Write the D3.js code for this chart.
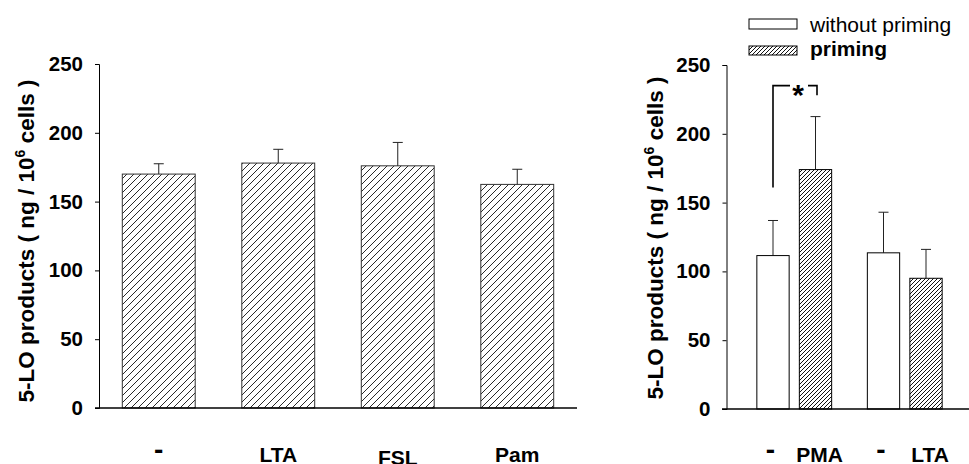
<!DOCTYPE html>
<html lang="en">
<head>
	<meta charset="utf-8">
	<script src="https://d3js.org/d3.v7.min.js"></script>
	<style type="text/css">
		body {
			margin: 0;
			background: #fff;
		}
		svg text {
			font-family: "Liberation Sans", Arial, sans-serif;
		}
	</style>
</head>
<body>
	<script type="text/javascript">

	// left panel: priming agents
	var leftCats = ["-", "LTA", "FSL", "Pam"];
	var leftValues = [170, 178, 176, 162.5];
	var leftErrors = [7.5, 10, 17, 11];

	// right panel: two pairs, without priming / priming
	var rightGroups = ["PMA", "LTA"];
	var rightSeries = ["without priming", "priming"];
	var rightLabels = ["-", "PMA", "-", "LTA"];
	var rightValues = [111.5, 174, 113.5, 95];
	var rightErrors = [25.5, 38.5, 29.5, 21];

	// significance bracket between first pair (value units)
	var sigLevel = [161, 235, 228];

	var yTicks = [0, 50, 100, 150, 200, 250];

	var width = 969;
	var height = 464;

	var svg = d3.select("body").append("svg")
		.attr("width", width)
		.attr("height", height);

	var defs = svg.append("defs");

	function addHatch(id, s, w) {
		var p = defs.append("pattern")
			.attr("id", id)
			.attr("patternUnits", "userSpaceOnUse")
			.attr("width", s)
			.attr("height", s);
		p.append("rect").attr("width", s).attr("height", s).attr("fill", "#fff");
		p.append("path")
			.attr("d", "M0," + s + "L" + s + ",0" +
				"M" + (-s / 2) + "," + (s / 2) + "L" + (s / 2) + "," + (-s / 2) +
				"M" + (s / 2) + "," + (s * 1.5) + "L" + (s * 1.5) + "," + (s / 2))
			.attr("stroke", "#111")
			.attr("stroke-width", w);
	}
	addHatch("hatchWide", 7, 0.9);
	addHatch("hatchDense", 4, 1);

	function yAxisTitle(x, yc) {
		var t = svg.append("text")
			.attr("transform", "translate(" + x + "," + yc + ") rotate(-90)")
			.attr("text-anchor", "middle")
			.style("font-size", "22.5px")
			.style("font-weight", "bold");
		t.append("tspan").text("5-LO products ( ng / 10");
		t.append("tspan").attr("dy", -9).style("font-size", "14px").text("6");
		t.append("tspan").attr("dy", 9).text(" cells )");
	}

	function drawYAxis(y, x0) {
		var g = svg.append("g")
			.attr("transform", "translate(" + x0 + ",0)")
			.call(d3.axisLeft(y).tickValues(yTicks).tickSize(4).tickPadding(12).tickFormat(d3.format("d")));
		g.select(".domain").attr("stroke", "#000").attr("stroke-width", 1);
		g.selectAll(".tick line").attr("stroke", "#000");
		g.selectAll(".tick text")
			.style("font-size", "20.5px")
			.style("font-weight", "bold")
			.attr("fill", "#000");
	}

	function errorBars(data, xc, y, cap) {
		var g = svg.append("g").attr("stroke", "#222").attr("stroke-width", 1);
		g.selectAll("line.v").data(data).enter().append("line")
			.attr("x1", function(d) { return xc(d); })
			.attr("x2", function(d) { return xc(d); })
			.attr("y1", function(d) { return y(d.v); })
			.attr("y2", function(d) { return y(d.v + d.e); });
		g.selectAll("line.c").data(data).enter().append("line")
			.attr("x1", function(d) { return xc(d) - cap / 2; })
			.attr("x2", function(d) { return xc(d) + cap / 2; })
			.attr("y1", function(d) { return y(d.v + d.e); })
			.attr("y2", function(d) { return y(d.v + d.e); });
	}

	// ---------- left panel ----------
	var xL = d3.scaleBand()
		.domain(leftCats)
		.range([99, 577])
		.paddingInner(0.39)
		.paddingOuter(0.195);

	var yL = d3.scaleLinear().domain([0, 250]).range([408, 64]);

	var leftData = leftCats.map(function(c, i) {
		return {c: c, v: leftValues[i], e: leftErrors[i]};
	});

	svg.append("g").selectAll("rect")
		.data(leftData)
		.enter()
		.append("rect")
		.attr("x", function(d) { return xL(d.c); })
		.attr("width", xL.bandwidth())
		.attr("y", function(d) { return yL(d.v); })
		.attr("height", function(d) { return yL(0) - yL(d.v); })
		.attr("fill", "url(#hatchWide)")
		.attr("stroke", "#333")
		.attr("stroke-width", 1);

	errorBars(leftData, function(d) { return xL(d.c) + xL.bandwidth() / 2; }, yL, 10);

	drawYAxis(yL, 99);
	svg.append("line")
		.attr("x1", 95).attr("x2", 577)
		.attr("y1", yL(0)).attr("y2", yL(0))
		.attr("stroke", "#000").attr("stroke-width", 1.5);

	svg.append("g").selectAll("text")
		.data(leftCats)
		.enter()
		.append("text")
		.attr("x", function(d) { return xL(d) + xL.bandwidth() / 2; })
		.attr("y", 462)
		.attr("dy", function(d) { return d === "-" ? -3 : (d === "FSL" ? 2.5 : 0); })
		.attr("text-anchor", "middle")
		.style("font-size", function(d) { return d === "-" ? "28px" : "21px"; })
		.style("font-weight", "bold")
		.text(function(d) { return d; });

	yAxisTitle(34, 241);

	// ---------- right panel ----------
	var xR0 = d3.scaleBand().domain(rightGroups).range([739, 960]);
	var xR1 = d3.scaleBand()
		.domain(rightSeries)
		.range([0, xR0.bandwidth()])
		.paddingInner(0.24)
		.paddingOuter(0.42);

	var yR = d3.scaleLinear().domain([0, 250]).range([409, 65]);

	var rightData = rightValues.map(function(v, i) {
		return {
			g: rightGroups[Math.floor(i / 2)],
			s: rightSeries[i % 2],
			label: rightLabels[i],
			v: v,
			e: rightErrors[i]
		};
	});

	function xRc(d) { return xR0(d.g) + xR1(d.s) + xR1.bandwidth() / 2; }

	errorBars(rightData, xRc, yR, 10);

	svg.append("g").selectAll("rect")
		.data(rightData)
		.enter()
		.append("rect")
		.attr("x", function(d) { return xR0(d.g) + xR1(d.s); })
		.attr("width", xR1.bandwidth())
		.attr("y", function(d) { return yR(d.v); })
		.attr("height", function(d) { return yR(0) - yR(d.v); })
		.attr("fill", function(d) { return d.s === "priming" ? "url(#hatchDense)" : "#fff"; })
		.attr("stroke", "#000")
		.attr("stroke-width", 1);

	drawYAxis(yR, 726.5);
	svg.append("line")
		.attr("x1", 722).attr("x2", width)
		.attr("y1", yR(0)).attr("y2", yR(0))
		.attr("stroke", "#000").attr("stroke-width", 1.5);

	svg.append("g").selectAll("text")
		.data(rightData)
		.enter()
		.append("text")
		.attr("x", function(d) { return xRc(d) + (d.label === "-" ? -2.5 : 4); })
		.attr("y", 462)
		.attr("dy", function(d) { return d.label === "-" ? -3 : 0; })
		.attr("text-anchor", "middle")
		.style("font-size", function(d) { return d.label === "-" ? "28px" : "21px"; })
		.style("font-weight", "bold")
		.text(function(d) { return d.label; });

	yAxisTitle(663, 238);

	// significance bracket
	var bx1 = xRc(rightData[0]);
	var bx2 = xRc(rightData[1]) + 1.5;
	var bracket = svg.append("g")
		.attr("fill", "none")
		.attr("stroke", "#000")
		.attr("stroke-width", 1.6);
	bracket.append("path")
		.attr("d", "M" + bx1 + "," + yR(sigLevel[0]) + "V" + yR(sigLevel[1]) + "H" + (bx1 + 17));
	bracket.append("path")
		.attr("d", "M" + (bx2 - 9) + "," + yR(sigLevel[1]) + "H" + bx2 + "V" + yR(sigLevel[2]));
	svg.append("text")
		.attr("x", (bx1 + bx2) / 2 + 3)
		.attr("y", yR(sigLevel[1]) + 19)
		.attr("text-anchor", "middle")
		.style("font-size", "30px")
		.style("font-weight", "bold")
		.text("*");

	// legend
	var legend = svg.append("g")
		.selectAll("g")
		.data(rightSeries)
		.enter()
		.append("g")
		.attr("transform", function(d, i) { return "translate(749," + (19 + i * 27) + ")"; });

	legend.append("rect")
		.attr("width", 48)
		.attr("height", function(d, i) { return i ? 9 : 10; })
		.attr("fill", function(d) { return d === "priming" ? "url(#hatchDense)" : "#fff"; })
		.attr("stroke", "#000")
		.attr("stroke-width", 1);

	legend.append("text")
		.attr("x", 61)
		.attr("y", function(d, i) { return i ? 10 : 13; })
		.style("font-size", "21px")
		.style("font-weight", function(d) { return d === "priming" ? "bold" : "normal"; })
		.text(function(d) { return d; });

	</script>
</body>
</html>
